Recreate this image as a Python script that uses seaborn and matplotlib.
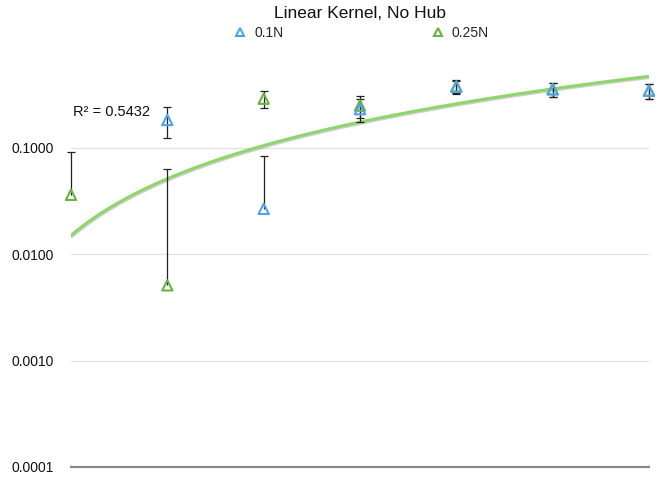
import numpy as np
import pandas as pd
import matplotlib
matplotlib.use("Agg")
import matplotlib.pyplot as plt
import matplotlib.patheffects as pe
from matplotlib.lines import Line2D
import seaborn as sns

# Measurements per test position (1..7); 0.1N has no value at position 1
positions = [1, 2, 3, 4, 5, 6, 7]
rate_01n = [np.nan, 0.183, 0.0267, 0.231, 0.375, 0.356, 0.345]
err_01n = [np.nan, 0.058, 0.058, 0.057, 0.055, 0.055, 0.056]
rate_025n = [0.0362, 0.0051, 0.290, 0.250, 0.380, 0.356, 0.345]
err_025n = [0.056, 0.058, 0.055, 0.060, 0.055, 0.055, 0.056]
y_ticks = [0.0001, 0.001, 0.01, 0.1]
y_tick_labels = ["0.0001", "0.0010", "0.0100", "0.1000"]
r2_label = "R² = 0.5432"

blue = "#4fa3e8"
green = "#6cb043"
trend_green = "#8fd66a"

sns.set_theme(style="white")
plt.rcParams["font.family"] = ["Liberation Sans", "DejaVu Sans"]

fig = plt.figure(figsize=(6.61, 4.78), dpi=100)
ax = fig.add_axes([71 / 661, 11 / 478, 578 / 661, 409 / 478])

df = pd.DataFrame({
    "pos": positions * 2,
    "rate": rate_01n + rate_025n,
    "err": err_01n + err_025n,
    "series": ["0.1N"] * 7 + ["0.25N"] * 7,
})
df["x"] = df["pos"] - 1

# Power trendline fitted to the 0.25N series
g = df[df["series"] == "0.25N"]
slope, intercept = np.polyfit(np.log(g["pos"]), np.log(g["rate"]), 1)
xs = np.linspace(1, 7, 200)
trend = pd.DataFrame({"x": xs - 1, "y": np.exp(intercept) * xs ** slope})
sns.lineplot(data=trend, x="x", y="y", ax=ax, color=trend_green, lw=2.2,
             path_effects=[pe.SimpleLineShadow(offset=(0.6, -0.9), shadow_color="#777777", alpha=0.35),
                           pe.Normal()], zorder=2)

# Error bars: symmetric, but the lower arm is dropped when it would go below zero
for name in ["0.25N", "0.1N"]:
    d = df[(df["series"] == name) & df["rate"].notna()]
    has_low = (d["rate"] - d["err"]) > 0
    lower = np.where(has_low, d["err"], 0.0)
    ax.errorbar(d["x"], d["rate"], yerr=[lower, d["err"]], fmt="none",
                ecolor="#222222", elinewidth=0.9, capsize=0,
                zorder=3, clip_on=False)
    caps = pd.concat([
        pd.DataFrame({"x": d["x"], "y": d["rate"] + d["err"]}),
        pd.DataFrame({"x": d["x"][has_low], "y": (d["rate"] - d["err"])[has_low]}),
    ])
    ax.scatter(caps["x"], caps["y"], marker="_", s=36, color="#222222",
               linewidths=0.9, zorder=3, clip_on=False)

for name, col in [("0.25N", green), ("0.1N", blue)]:
    d = df[(df["series"] == name) & df["rate"].notna()]
    sns.scatterplot(data=d, x="x", y="rate", ax=ax, marker="^", s=55,
                    facecolor="none", edgecolor=col, linewidth=1.5,
                    zorder=4, clip_on=False, legend=False)

ax.set_yscale("log")
ax.set_ylim(1e-4, 0.7)
ax.set_xlim(0, 6)
ax.set_yticks(y_ticks)
ax.set_yticklabels(y_tick_labels)
ax.yaxis.set_minor_locator(matplotlib.ticker.NullLocator())
ax.set_xticks([])
ax.set_xlabel("")
ax.set_ylabel("")
ax.tick_params(axis="y", length=0, pad=12, labelsize=10, labelcolor="#111111")
for t in y_ticks[1:]:
    ax.axhline(t, color="#e2e2e2", lw=0.9, zorder=0)
for s in ["top", "right", "left"]:
    ax.spines[s].set_visible(False)
ax.spines["bottom"].set_color("#8a8a8a")
ax.spines["bottom"].set_linewidth(1.6)

ax.text(0.02, 0.218, r2_label, fontsize=10.5, color="#111111", ha="left", va="center")

fig.text(360 / 661, 1 - 13 / 478, "Linear Kernel, No Hub", fontsize=12.5,
         ha="center", va="center", color="#111111")
handles = [Line2D([], [], ls="none", marker="^", ms=6, mfc="none", mec=blue, mew=1.5),
           Line2D([], [], ls="none", marker="^", ms=6, mfc="none", mec=green, mew=1.5)]
fig.legend(handles, ["0.1N", "0.25N"], loc="center", ncol=2, frameon=False,
           bbox_to_anchor=(361 / 661, 1 - 33 / 478), fontsize=10,
           handlelength=1.0, handletextpad=0.5, columnspacing=10.6)

fig.savefig("out.png", dpi=100, facecolor="white")
